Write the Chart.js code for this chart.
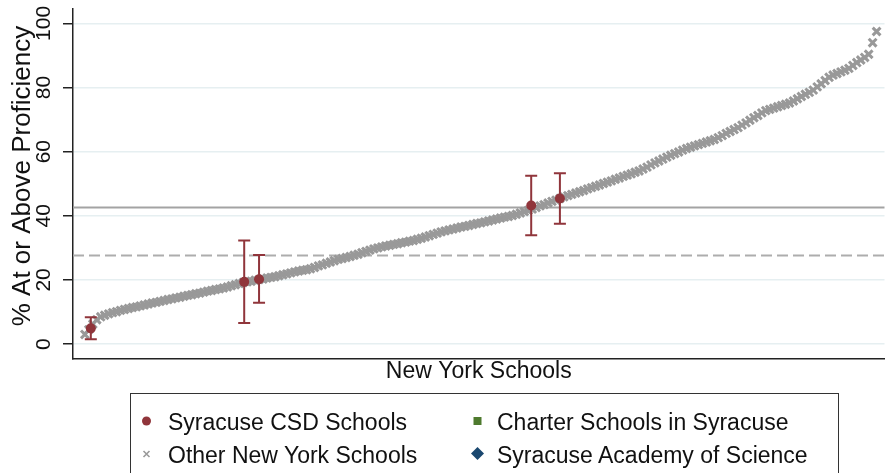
<!DOCTYPE html>
<html>
<head>
<meta charset="utf-8">
<script src="https://cdn.jsdelivr.net/npm/chart.js@4"></script>
<style>
  body { margin: 0; background: #fff; font-family: "Liberation Sans", Arial, sans-serif; }
  #wrap { position: relative; width: 893px; height: 473px; overflow: hidden; }
  #legend {
    position: absolute; left: 130px; top: 393px; width: 709px; height: 90px;
    border: 1.5px solid #333; box-sizing: border-box; font-size: 23px; color: #111;
  }
  .item { position: absolute; white-space: nowrap; line-height: 26px; }
  #marks { position: absolute; left: 0; top: 0; }
</style>
</head>
<body>
<div id="wrap">
  <canvas id="chart" width="893" height="473"></canvas>
  <div id="legend">
    <div class="item" style="left:37px; top:15px;">Syracuse CSD Schools</div>
    <div class="item" style="left:366px; top:15px;">Charter Schools in Syracuse</div>
    <div class="item" style="left:37px; top:48px;">Other New York Schools</div>
    <div class="item" style="left:366px; top:48px;">Syracuse Academy of Science</div>
    <svg id="marks" width="709" height="90">
      <circle cx="15.5" cy="27" r="4.5" fill="#90353b"/>
      <path d="M12.5 57 L18.5 63 M18.5 57 L12.5 63" stroke="#9a9a9a" stroke-width="1.6"/>
      <rect x="342.5" y="23" width="8" height="8" fill="#4e7a2e"/>
      <path d="M346.5 53 L353 59.5 L346.5 66 L340 59.5 Z" fill="#1a476f"/>
    </svg>
  </div>
</div>
<script>
// school scores sorted low to high; x is the school's rank position
const otherScores = [
  3.0, 4.5, 6.2, 7.6, 8.5, 9.0, 9.4, 9.8, 10.1, 10.5,
  10.8, 11.1, 11.4, 11.6, 11.9, 12.2, 12.5, 12.8, 13.0, 13.3,
  13.6, 13.9, 14.1, 14.4, 14.6, 14.9, 15.2, 15.4, 15.7, 15.9,
  16.2, 16.5, 16.7, 17.0, 17.2, 17.5, 17.8, 18.2, 18.5, 18.9,
  19.2, 19.4, 19.6, 19.9, 20.1, 20.3, 20.6, 20.8, 21.0, 21.3,
  21.6, 21.9, 22.2, 22.5, 22.8, 23.0, 23.2, 23.5, 23.9, 24.4,
  24.7, 25.2, 25.6, 26.0, 26.4, 26.7, 27.0, 27.3, 27.7, 28.0,
  28.5, 28.9, 29.3, 29.7, 30.0, 30.3, 30.6, 30.8, 31.1, 31.3,
  31.6, 31.8, 32.1, 32.3, 32.7, 33.0, 33.4, 33.8, 34.2, 34.6,
  35.0, 35.3, 35.6, 35.9, 36.2, 36.5, 36.7, 37.0, 37.3, 37.6,
  37.8, 38.1, 38.4, 38.7, 39.0, 39.3, 39.6, 39.8, 40.1, 40.5,
  40.9, 41.3, 41.7, 42.1, 42.6, 43.1, 43.5, 44.0, 44.5, 44.9,
  45.4, 45.9, 46.3, 46.7, 47.1, 47.5, 47.9, 48.4, 48.8, 49.2,
  49.6, 50.1, 50.5, 50.9, 51.4, 51.8, 52.3, 52.7, 53.1, 53.6,
  54.0, 54.6, 55.2, 55.9, 56.5, 57.1, 57.7, 58.3, 58.9, 59.4,
  59.9, 60.5, 61.0, 61.4, 61.8, 62.2, 62.6, 63.0, 63.4, 63.8,
  64.4, 65.0, 65.7, 66.3, 66.9, 67.5, 68.3, 69.0, 69.8, 70.6,
  71.3, 72.1, 72.8, 73.2, 73.6, 74.0, 74.4, 74.8, 75.2, 75.8,
  76.5, 77.2, 77.9, 78.5, 79.2, 80.2, 81.2, 82.2, 83.2, 83.9,
  84.4, 84.9, 85.4, 86.0, 86.9, 87.8, 88.6, 89.4, 90.4, 94.0,
  97.5
];
const csdRank = [1.5, 40.25, 44, 112.75, 120];
const csdScores = [4.9, 19.4, 20.2, 43.2, 45.4];
const csdLow = [1.5, 6.6, 12.9, 33.9, 37.5];
const csdHigh = [8.4, 32.3, 27.8, 52.5, 53.3];
const yTicks = [0, 20, 40, 60, 80, 100];
const refSolid = 42.6;
const refDashed = 27.6;

const RED = '#90353b';
const GRAY = '#999999';

const extras = {
  id: 'extras',
  beforeDatasetsDraw(chart) {
    const { ctx, chartArea: a, scales: { y } } = chart;
    ctx.save();
    ctx.lineWidth = 2;
    ctx.strokeStyle = '#a3a3a3';
    let py = y.getPixelForValue(refSolid);
    ctx.beginPath(); ctx.moveTo(a.left, py); ctx.lineTo(a.right, py); ctx.stroke();
    ctx.setLineDash([11, 5]);
    ctx.strokeStyle = '#adadad';
    py = y.getPixelForValue(refDashed);
    ctx.beginPath(); ctx.moveTo(a.left, py); ctx.lineTo(a.right, py); ctx.stroke();
    ctx.restore();
  },
  // error bars go on top of the grey band, under the red dots
  beforeDatasetDraw(chart, args) {
    if (args.index !== 0) return;
    const { ctx, scales: { x, y } } = chart;
    ctx.save();
    ctx.strokeStyle = RED;
    ctx.lineWidth = 2;
    csdRank.forEach((r, i) => {
      const px = x.getPixelForValue(r);
      const top = y.getPixelForValue(csdHigh[i]);
      const bot = y.getPixelForValue(csdLow[i]);
      ctx.beginPath();
      ctx.moveTo(px, top); ctx.lineTo(px, bot);
      ctx.moveTo(px - 6, top); ctx.lineTo(px + 6, top);
      ctx.moveTo(px - 6, bot); ctx.lineTo(px + 6, bot);
      ctx.stroke();
    });
    ctx.restore();
  },
  afterDraw(chart) {
    const { ctx, scales: { y } } = chart;
    ctx.save();
    ctx.fillStyle = '#111';
    ctx.textAlign = 'center';
    ctx.textBaseline = 'middle';
    ctx.font = '21px "Liberation Sans", Arial';
    yTicks.forEach(v => {
      ctx.save();
      ctx.translate(44, y.getPixelForValue(v));
      ctx.rotate(-Math.PI / 2);
      ctx.fillText(String(v), 0, 0);
      ctx.restore();
    });
    ctx.font = '26px "Liberation Sans", Arial';
    ctx.translate(23, 176);
    ctx.rotate(-Math.PI / 2);
    ctx.fillText('% At or Above Proficiency', 0, 0);
    ctx.restore();
  }
};

new Chart(document.getElementById('chart'), {
  type: 'scatter',
  data: {
    datasets: [
      {
        label: 'Syracuse CSD Schools',
        data: csdScores.map((v, i) => ({ x: csdRank[i], y: v })),
        pointStyle: 'circle',
        radius: 5,
        borderWidth: 0,
        backgroundColor: RED
      },
      {
        label: 'Other New York Schools',
        data: otherScores.map((v, i) => ({ x: i, y: v })),
        pointStyle: 'crossRot',
        radius: 5.5,
        borderWidth: 3,
        borderColor: GRAY,
        backgroundColor: GRAY
      }
    ]
  },
  options: {
    responsive: false,
    animation: false,
    devicePixelRatio: 1,
    layout: { padding: { top: 7, right: 0, bottom: 88, left: 0 } },
    plugins: { legend: { display: false }, tooltip: { enabled: false } },
    scales: {
      x: {
        type: 'linear',
        min: -3,
        max: 202,
        grid: { display: false },
        ticks: { display: false },
        border: { color: '#222', width: 1.5 },
        title: {
          display: true,
          text: 'New York Schools',
          color: '#111',
          font: { family: '"Liberation Sans", Arial', size: 23 },
          padding: 0
        },
        afterFit(s) { s.height = 26; }
      },
      y: {
        min: -4.66,
        max: 104.66,
        afterBuildTicks(s) { s.ticks = yTicks.map(v => ({ value: v })); },
        ticks: { display: false },
        grid: { color: '#e6eff1', lineWidth: 1.5, tickLength: 10, tickColor: '#222', tickWidth: 1.5 },
        border: { color: '#222', width: 1.5 },
        afterFit(s) { s.width = 73; }
      }
    }
  },
  plugins: [extras]
});
</script>
</body>
</html>
